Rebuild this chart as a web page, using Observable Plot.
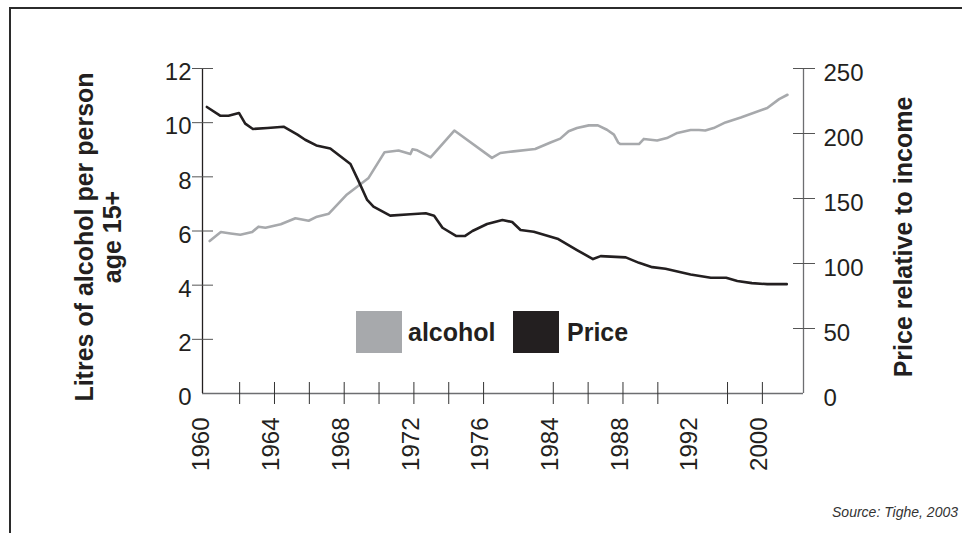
<!DOCTYPE html>
<html>
<head>
<meta charset="utf-8">
<script src="https://cdn.jsdelivr.net/npm/d3@7"></script>
<script src="https://cdn.jsdelivr.net/npm/@observablehq/plot@0.6"></script>
<style>
  html, body { margin: 0; padding: 0; background: #fff; overflow: hidden; }
  body { font-family: "Liberation Sans", Arial, Helvetica, sans-serif; color: #231f20; }
  #wrap { position: relative; width: 962px; height: 533px; overflow: hidden; }
  #frame { position: absolute; left: 9px; top: 7px; width: 953px; height: 526px; border-top: 2px solid #2b2b2b; border-left: 2px solid #2b2b2b; box-sizing: border-box; }
  #chart { position: absolute; left: 0; top: 0; }
  .ytitle { position: absolute; transform: translate(-50%, -50%) rotate(-90deg); font-weight: bold; font-size: 25px; line-height: 28px; text-align: center; white-space: nowrap; }
  .swatch { position: absolute; width: 46px; height: 42px; }
  .legtext { position: absolute; font-weight: bold; font-size: 25px; line-height: 30px; white-space: nowrap; }
  #source { position: absolute; right: 4px; top: 504px; font-style: italic; font-size: 14px; color: #333; white-space: nowrap; }
</style>
</head>
<body>
<div id="wrap">
  <div id="frame"></div>
  <div id="chart"></div>
  <div class="ytitle" style="left:98px; top:237px;">Litres of alcohol per person<br>age 15+</div>
  <div class="ytitle" style="left:903px; top:237px;">Price relative to income</div>
  <div class="swatch" style="left:356px; top:311px; background:#a7a9ac;"></div>
  <div class="legtext" style="left:408px; top:317px;">alcohol</div>
  <div class="swatch" style="left:513px; top:311px; background:#231f20;"></div>
  <div class="legtext" style="left:567px; top:317px;">Price</div>
  <div id="source">Source: Tighe, 2003</div>
</div>
<script>
// ---- Data (x = position along the axis, 0 = "1960" label, 8 = "2000" label) ----
const alcoholPos = [0.07,0.23,0.37,0.51,0.68,0.77,0.87,1.09,1.30,1.49,1.61,1.78,2.04,2.35,2.58,2.78,2.95,2.98,3.05,3.24,3.58,4.12,4.24,4.43,4.74,4.96,5.10,5.22,5.34,5.51,5.64,5.77,5.87,5.93,5.96,6.23,6.30,6.49,6.63,6.78,6.97,7.09,7.18,7.30,7.47,7.69,8.07,8.24,8.36];
const alcoholLitres = [5.63,5.96,5.91,5.86,5.96,6.16,6.12,6.25,6.47,6.38,6.53,6.64,7.35,7.96,8.91,8.97,8.84,9.02,8.98,8.72,9.71,8.70,8.88,8.94,9.03,9.27,9.41,9.68,9.80,9.90,9.90,9.74,9.56,9.27,9.21,9.21,9.40,9.34,9.43,9.62,9.73,9.73,9.71,9.80,10.01,10.19,10.54,10.87,11.03];

const pricePos = [0.03,0.22,0.34,0.49,0.58,0.69,0.90,1.13,1.33,1.44,1.60,1.80,2.09,2.21,2.33,2.42,2.66,2.95,3.17,3.29,3.41,3.61,3.73,3.84,4.05,4.27,4.41,4.53,4.72,5.06,5.34,5.57,5.68,6.04,6.23,6.42,6.61,6.97,7.26,7.48,7.64,7.85,8.07,8.35];
const priceIndex = [220.4,213.7,213.7,215.8,207.6,203.5,204.2,205.2,199.1,195.2,190.8,188.5,176.5,163.0,148.9,143.8,136.8,137.9,138.7,136.8,127.5,121.1,121.1,125.0,130.4,133.5,131.9,125.8,124.4,119.1,110.3,103.4,105.7,104.7,100.5,97.2,95.9,91.6,89.0,89.0,86.6,84.9,84.1,84.1];

const xLabels = ["1960","1964","1968","1972","1976","1984","1988","1992","2000"];
const xLabelPos = [0,1,2,3,4,5,6,7,8];
const xTickPos = [0.5,1,1.5,2,2.5,3,3.5,4,5,5.5,6,6.5,7.5,8];
const leftLabels = [0,2,4,6,8,10,12];
const leftTickVals = [2,4,6,8,10,12];
const rightLabels = [0,50,100,150,200,250];
const rightTickVals = [50,100,150,200,250];

const LITRE_MAX = 12, PRICE_MAX = 250;
const toLeft = p => p * LITRE_MAX / PRICE_MAX;
const xDomain = [-0.033, 8.59];

const alcoholData = alcoholPos.map((x, i) => ({x, y: alcoholLitres[i]}));
const priceData = pricePos.map((x, i) => ({x, y: toLeft(priceIndex[i])}));

const GRAY = "#a7a9ac", BLACK = "#231f20", AXIS_GRAY = "#6d6e71";

const chart = Plot.plot({
  width: 962,
  height: 533,
  marginLeft: 202,
  marginRight: 159,
  marginTop: 68,
  marginBottom: 140,
  style: { fontFamily: '"Liberation Sans", Arial, sans-serif', fontSize: "24px", color: BLACK, background: "transparent", overflow: "visible" },
  x: { domain: xDomain, label: null, axis: null },
  y: { domain: [0, LITRE_MAX], label: null, axis: null },
  marks: [
    // axis lines
    Plot.ruleY([0], { stroke: AXIS_GRAY, strokeWidth: 1.6 }),
    Plot.ruleX([xDomain[0]], { y1: 0, y2: LITRE_MAX, stroke: BLACK, strokeWidth: 1.3 }),
    Plot.ruleX([xDomain[1]], { y1: 0, y2: LITRE_MAX, stroke: AXIS_GRAY, strokeWidth: 1.3 }),
    // left axis
    Plot.axisY(leftTickVals, { anchor: "left", tickSize: 21, insetLeft: 11, fill: "none", stroke: "#555", label: null }),
    Plot.axisY(leftLabels, { anchor: "left", tickSize: 0, tickPadding: 11, dy: 4, fill: BLACK, label: null }),
    // right axis
    Plot.axisY(rightTickVals.map(toLeft), { anchor: "right", tickSize: 22, insetRight: 11, fill: "none", stroke: "#555", label: null }),
    Plot.axisY(rightLabels.map(toLeft), { anchor: "right", tickSize: 0, tickPadding: 20, dy: 5, fill: BLACK, label: null,
      tickFormat: d => String(Math.round(d * PRICE_MAX / LITRE_MAX)) }),
    // x axis
    Plot.axisX(xTickPos, { anchor: "bottom", tickSize: 22, insetBottom: 11, fill: "none", stroke: "#333", label: null }),
    Plot.axisX(xLabelPos, { anchor: "bottom", tickSize: 0, tickRotate: -90, tickPadding: 24, dx: -3, fill: BLACK, label: null,
      tickFormat: d => xLabels[d] }),
    // series
    Plot.line(alcoholData, { x: "x", y: "y", stroke: GRAY, strokeWidth: 2.6, curve: "linear" }),
    Plot.line(priceData, { x: "x", y: "y", stroke: BLACK, strokeWidth: 2.6, curve: "linear" })
  ]
});
document.getElementById("chart").appendChild(chart);
</script>
</body>
</html>
